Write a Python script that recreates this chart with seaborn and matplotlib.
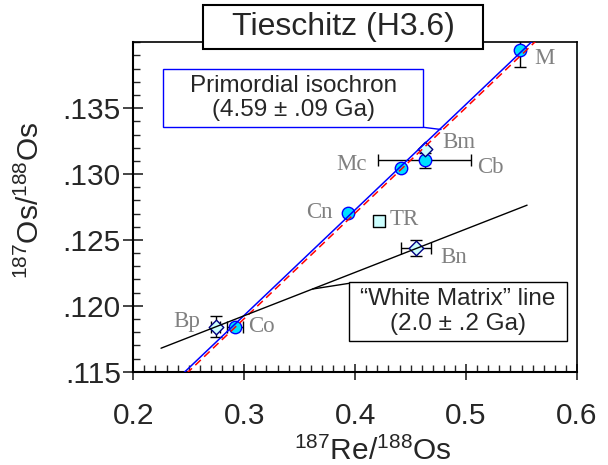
import matplotlib
matplotlib.use("Agg")
import matplotlib.pyplot as plt
from matplotlib.patches import Rectangle
from matplotlib.lines import Line2D
from matplotlib.ticker import MultipleLocator, FuncFormatter
import numpy as np
import pandas as pd
import seaborn as sns

labels = ["M", "Bm", "Cb", "Mc", "Cn", "TR", "Bn", "Bp", "Co"]
re_os = [0.549, 0.4626, 0.4626, 0.441, 0.3932, 0.4216, 0.4547, 0.2742, 0.2916]
os_os = [0.13943, 0.1319, 0.13103, 0.13045, 0.12704, 0.12645, 0.12437, 0.11843, 0.11843]
kind = ["circle", "diamond", "circle", "circle", "circle", "square", "diamond", "diamond", "circle"]
x_err = [0, 0, 0.042, 0, 0, 0, 0.0137, 0.004, 0.0075]
y_err = [0.0013, 0, 0.0006, 0, 0, 0, 0.0006, 0.0008, 0]

# isochron fits: slope, intercept
primordial = (0.0801, 0.09525)
primordial_alt = (0.0801, 0.0950)
white_matrix = (0.0329, 0.10938)
white_x = [0.225, 0.555]

# label offsets in points (dx, dy, ha)
label_off = {
    "M": (10, -6.5, "left"), "Bm": (13, 4.5, "left"), "Cb": (38, -5, "left"),
    "Mc": (-24.5, 2.4, "right"), "Cn": (-10.6, 0.5, "right"), "TR": (7.7, 1.2, "left"),
    "Bn": (17.3, -6.5, "left"), "Bp": (-11.3, 3.4, "right"), "Co": (9.4, 0, "left"),
}

sns.set_style("ticks")
plt.rcParams.update({
    "font.family": ["Liberation Sans", "DejaVu Sans"],
    "mathtext.default": "regular",
    "axes.linewidth": 1.5,
})

W, H = 608, 465
fig = plt.figure(figsize=(W / 100, H / 100), dpi=100)
ax = fig.add_axes([133.3 / W, 1 - 371.7 / H, (577 - 133.3) / W, (371.7 - 42.3) / H])


def fxy(px, py):
    return px / W, 1 - py / H


df = pd.DataFrame({"x": re_os, "y": os_os, "kind": kind, "label": labels,
                   "xerr": x_err, "yerr": y_err})

# error bars behind markers
ex = df[df.xerr > 0]
ax.errorbar(ex.x, ex.y, xerr=ex.xerr, fmt="none", ecolor="black", elinewidth=1,
            capsize=4, capthick=1, zorder=1)
ey = df[df.yerr > 0]
ax.errorbar(ey.x, ey.y, yerr=ey.yerr, fmt="none", ecolor="black", elinewidth=1,
            capsize=4, capthick=1, zorder=1)

styles = {
    "circle": dict(marker="o", s=80, color="#00E0FF", edgecolor="#0000FF"),
    "diamond": dict(marker="D", s=55, color="#CCFFFF", edgecolor="#000080"),
    "square": dict(marker="s", s=80, color="#CCFFFF", edgecolor="#000000"),
}
for k, st in styles.items():
    sub = df[df.kind == k]
    sns.scatterplot(data=sub, x="x", y="y", ax=ax, linewidth=1, zorder=2, legend=False, **st)

# isochron lines on top
xs = np.array([0.2, 0.6])
ax.plot(xs, primordial_alt[1] + primordial_alt[0] * xs, color="#FF0000", lw=1.1,
        ls=(0, (5, 3)), zorder=3)
sns.lineplot(x=xs, y=primordial[1] + primordial[0] * xs, ax=ax, color="#0000FF", lw=1.1, zorder=3)
wx = np.array(white_x)
ax.plot(wx, white_matrix[1] + white_matrix[0] * wx, color="black", lw=1, zorder=3)

for _, r in df.iterrows():
    dx, dy, ha = label_off[r.label]
    ax.annotate(r.label, (r.x, r.y), xytext=(dx, dy), textcoords="offset points",
                ha=ha, va="center", fontsize=16.5, color="#808080",
                family=["Liberation Serif", "DejaVu Serif"], zorder=4)

ax.set_xlim(0.2, 0.6)
ax.set_ylim(0.115, 0.140)
ax.set_xticks([0.2, 0.3, 0.4, 0.5, 0.6])
ax.set_yticks([0.115, 0.120, 0.125, 0.130, 0.135])
ax.xaxis.set_minor_locator(MultipleLocator(0.01))
ax.yaxis.set_minor_locator(MultipleLocator(0.001))
ax.yaxis.set_major_formatter(FuncFormatter(lambda v, p: f"{v:.3f}".lstrip("0")))
ax.xaxis.set_major_formatter(FuncFormatter(lambda v, p: f"{v:.1f}"))
ax.tick_params(axis="x", which="major", direction="inout", length=12, width=1.2,
               labelsize=21.5, pad=16)
ax.tick_params(axis="y", which="major", direction="inout", length=14, width=1.2,
               labelsize=21.5, pad=2)
ax.tick_params(which="minor", direction="in", length=5, width=1)
for s in ax.spines.values():
    s.set_color("black")
ax.spines["top"].set_linewidth(1.2)
ax.spines["right"].set_linewidth(1.2)

ax.set_xlabel(r"$^{187}$Re/$^{188}$Os", fontsize=21.5)
ax.set_ylabel(r"$^{187}$Os/$^{188}$Os", fontsize=21.5)
ax.xaxis.set_label_coords(0.54, -0.197)
ax.yaxis.set_label_coords(-0.199, 0.52)

# title box
x0, y0 = fxy(203, 49)
x1, y1 = fxy(483, 5)
fig.patches.append(Rectangle((x0, y0), x1 - x0, y1 - y0, transform=fig.transFigure,
                             facecolor="white", edgecolor="black", lw=1.5, zorder=5))
fig.text(*fxy(343, 27), "Tieschitz (H3.6)", ha="center", va="center", fontsize=23, zorder=6)

# primordial isochron box
x0, y0 = fxy(163.3, 127.3)
x1, y1 = fxy(423.3, 69)
fig.patches.append(Rectangle((x0, y0), x1 - x0, y1 - y0, transform=fig.transFigure,
                             facecolor="white", edgecolor="#0000FF", lw=1, zorder=5))
fig.text(*fxy(293.3, 98), "Primordial isochron\n(4.59 \u00b1 .09 Ga)", ha="center",
         va="center", fontsize=17.5, linespacing=1.15, zorder=6)
fig.lines.append(Line2D([423.3 / W, 441 / W], [1 - 127.3 / H, 1 - 129.5 / H],
                        transform=fig.transFigure, color="#0000FF", lw=1))

# white matrix box
x0, y0 = fxy(349.3, 340.7)
x1, y1 = fxy(566.7, 282.3)
fig.patches.append(Rectangle((x0, y0), x1 - x0, y1 - y0, transform=fig.transFigure,
                             facecolor="white", edgecolor="black", lw=1, zorder=5))
fig.text(*fxy(458, 311.5), "\u201cWhite Matrix\u201d line\n(2.0 \u00b1 .2 Ga)", ha="center",
         va="center", fontsize=17.5, linespacing=1.15, zorder=6)
fig.lines.append(Line2D([349.3 / W, 312.7 / W], [1 - 283.3 / H, 1 - 289 / H],
                        transform=fig.transFigure, color="black", lw=1))

fig.savefig("out.png", dpi=100)
